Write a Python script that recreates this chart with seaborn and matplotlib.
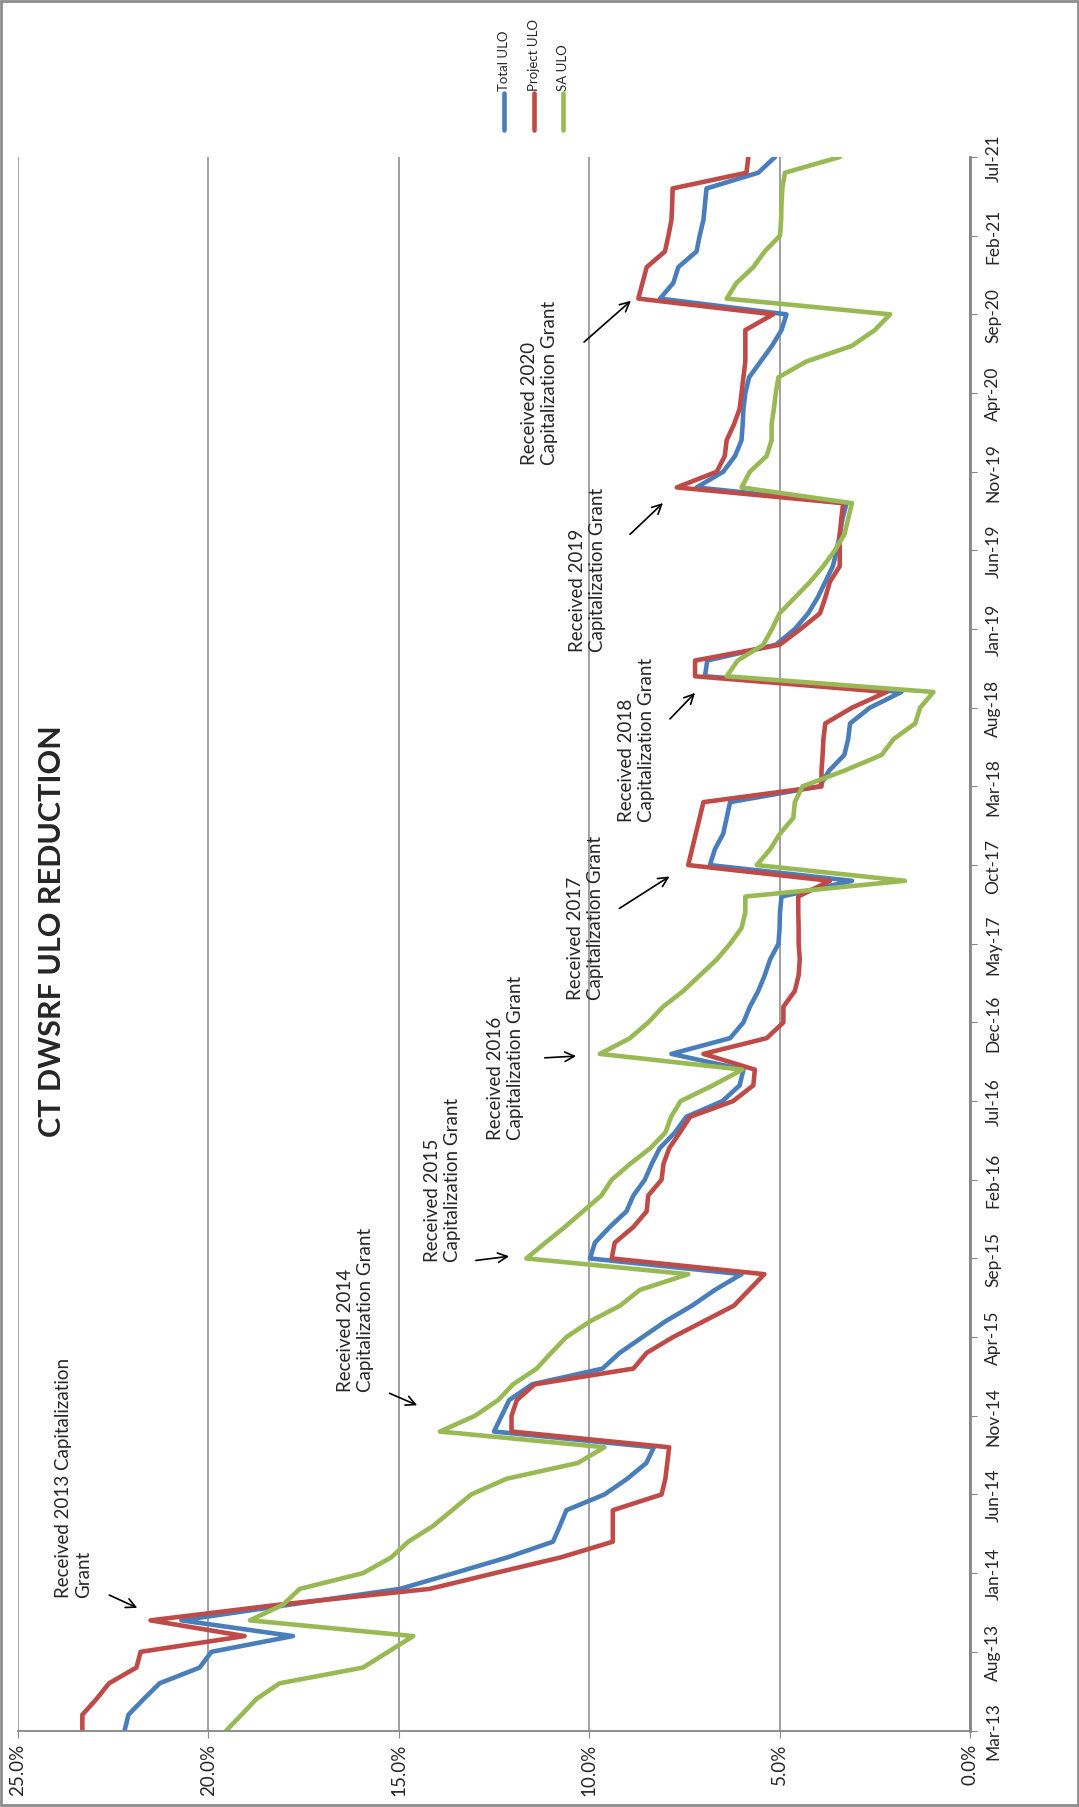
import numpy as np
import pandas as pd
import matplotlib
matplotlib.use('Agg')
import matplotlib.pyplot as plt
import seaborn as sns
from matplotlib.lines import Line2D
from matplotlib.patches import Rectangle

# months since Mar-13 (monthly points), date tick labels every 5 months
months = list(range(101))
tick_months = list(range(0, 101, 5))
tick_labels = ['Mar-13', 'Aug-13', 'Jan-14', 'Jun-14', 'Nov-14', 'Apr-15', 'Sep-15',
               'Feb-16', 'Jul-16', 'Dec-16', 'May-17', 'Oct-17', 'Mar-18', 'Aug-18',
               'Jan-19', 'Jun-19', 'Nov-19', 'Apr-20', 'Sep-20', 'Feb-21', 'Jul-21']
pct_ticks = [0, 5, 10, 15, 20, 25]

# ULO as percent
total_ulo = [22.2, 22.1, 21.7, 21.28, 20.23, 19.92, 17.78, 20.71, 17.86, 14.97,
             13.55, 12.15, 10.95, 10.77, 10.6, 9.6, 9.0, 8.5, 8.3, 12.5,
             12.3, 12.1, 11.5, 9.65, 9.2, 8.6, 8.0, 7.3, 6.7, 6.0,
             9.98, 9.85, 9.46, 9.02, 8.84, 8.54, 8.36, 8.15, 7.75, 7.45,
             6.5, 6.05, 5.95, 7.84, 6.3, 5.95, 5.78, 5.56, 5.39, 5.25,
             5.03, 5.0, 4.99, 4.95, 3.1, 6.83, 6.7, 6.48, 6.39, 6.3,
             3.95, 3.7, 3.3, 3.2, 3.15, 2.63, 1.8, 6.96, 6.9, 5.1,
             4.6, 4.25, 4.0, 3.8, 3.6, 3.5, 3.42, 3.35, 3.24, 7.18,
             6.48, 6.17, 6.0, 5.97, 5.95, 5.9, 5.8, 5.5, 5.2, 4.95,
             4.82, 8.14, 7.79, 7.66, 7.18, 7.1, 7.0, 6.96, 6.92, 5.56,
             5.12]
project_ulo = [23.31, 23.31, 22.94, 22.61, 21.89, 21.78, 19.05, 21.52, 18.13, 14.19,
               12.48, 10.75, 9.38, 9.38, 9.38, 8.1, 8.0, 7.95, 7.9, 12.04,
               12.04, 11.9, 11.43, 8.84, 8.49, 7.8, 7.0, 6.2, 5.8, 5.4,
               9.41, 9.33, 8.84, 8.49, 8.45, 8.1, 8.05, 7.9, 7.62, 7.35,
               6.22, 5.69, 5.65, 7.0, 5.34, 4.9, 4.9, 4.6, 4.5, 4.47,
               4.5, 4.5, 4.51, 4.51, 3.68, 7.4, 7.3, 7.2, 7.1, 7.0,
               3.9, 3.9, 3.87, 3.85, 3.8, 3.1, 2.19, 7.22, 7.22, 5.0,
               4.45, 3.94, 3.8, 3.68, 3.42, 3.42, 3.42, 3.38, 3.33, 7.7,
               6.65, 6.44, 6.39, 6.2, 6.05, 6.0, 5.95, 5.9, 5.9, 5.9,
               5.17, 8.71, 8.6, 8.49, 8.01, 7.92, 7.84, 7.82, 7.81, 5.87,
               5.82]
sa_ulo = [19.53, 19.13, 18.74, 18.13, 15.94, 15.28, 14.62, 18.91, 18.04, 17.6,
          15.94, 15.2, 14.75, 14.1, 13.6, 13.1, 12.17, 10.3, 9.6, 13.92,
          13.0, 12.39, 12.0, 11.38, 11.0, 10.6, 9.98, 9.19, 8.67, 7.4,
          11.65, 11.15, 10.64, 10.16, 9.68, 9.41, 8.93, 8.4, 8.0, 7.85,
          7.6, 6.75, 5.98, 9.72, 8.93, 8.45, 8.06, 7.53, 7.09, 6.65,
          6.3, 6.0, 5.9, 5.9, 1.71, 5.6, 5.25, 4.99, 4.64, 4.6,
          4.4, 3.3, 2.32, 2.01, 1.44, 1.31, 0.96, 6.39, 6.1, 5.43,
          5.2, 5.0, 4.6, 4.2, 3.85, 3.55, 3.3, 3.2, 3.1, 6.0,
          5.78, 5.34, 5.21, 5.21, 5.15, 5.1, 5.03, 4.3, 3.1, 2.5,
          2.1, 6.39, 6.13, 5.69, 5.39, 4.99, 4.96, 4.95, 4.93, 4.86,
          3.42]

series_names = ['Total ULO', 'Project ULO', 'SA ULO']
colors = ['#4A7EBB', '#BE4B48', '#98B954']

grant_texts = ['Received 2013 Capitalization\nGrant',
               'Received 2014\nCapitalization Grant',
               'Received 2015\nCapitalization Grant',
               'Received 2016\nCapitalization Grant',
               'Received 2017\nCapitalization Grant',
               'Received 2018\nCapitalization Grant',
               'Received 2019\nCapitalization Grant',
               'Received 2020\nCapitalization Grant']
# text anchor (value, month) and arrow tail/head (value, month)
grant_text_pos = [(24.03, 8.48), (16.63, 21.6), (14.34, 29.84), (12.69, 37.6),
                  (10.59, 46.5), (9.25, 57.8), (10.53, 68.6), (11.79, 80.5)]
grant_arrows = [((22.67, 8.68), (21.8, 7.72)), ((15.31, 21.5), (14.45, 20.6)),
                ((13.05, 29.85), (12.03, 30.16)), ((11.24, 42.74), (10.27, 42.87)),
                ((9.27, 52.15), (7.83, 54.37)), ((7.93, 64.16), (7.17, 66.07)),
                ((8.98, 75.9), (8.01, 78.13)), ((10.19, 88.12), (8.85, 90.98))]

df = pd.DataFrame({
    'month': months * 3,
    'value': total_ulo + project_ulo + sa_ulo,
    'series': [s for s in series_names for _ in months],
})

sns.set_style('white')
plt.rcParams['font.family'] = ['Lato', 'DejaVu Sans']

W, H = 1079, 1808
fig = plt.figure(figsize=(W / 100, H / 100), dpi=100)
ax = fig.add_axes([18 / W, 1 - 1731.5 / H, (970 - 18) / W, (1731.5 - 158) / H])

sns.lineplot(data=df, x='value', y='month', hue='series', hue_order=series_names,
             palette=colors, orient='y', estimator=None, legend=False,
             lw=3.3, solid_joinstyle='round', solid_capstyle='round', ax=ax)

grid_col = '#868686'
ax.set_xlim(25, 0)
ax.set_ylim(0, 100)
ax.set_xticks(pct_ticks)
ax.set_xticklabels([f'{p:.1f}%' for p in pct_ticks], rotation=90, fontsize=13.5)
ax.yaxis.tick_right()
ax.set_yticks(tick_months)
ax.set_yticklabels(tick_labels, rotation=90, va='center', fontsize=12.5)
ax.set_xlabel('')
ax.set_ylabel('')
ax.grid(axis='x', color=grid_col, lw=1.1)
ax.grid(axis='y', visible=False)
ax.tick_params(axis='x', bottom=True, direction='out', length=5, color=grid_col, pad=4)
ax.tick_params(axis='y', right=True, left=False, direction='out', length=5,
               color=grid_col, pad=6)
for side in ['top', 'left']:
    ax.spines[side].set_visible(False)
ax.spines['right'].set_color(grid_col)
ax.spines['right'].set_linewidth(2)
ax.spines['bottom'].set_color(grid_col)
ax.spines['bottom'].set_linewidth(1.3)

# grant annotations
for txt, pos, (tail, head) in zip(grant_texts, grant_text_pos, grant_arrows):
    ax.text(pos[0], pos[1], txt, rotation=90, ha='left', va='bottom',
            multialignment='left', fontsize=13.5, linespacing=1.2)
    ax.annotate('', xy=head, xytext=tail,
                arrowprops=dict(arrowstyle='->', color='black', lw=1.2,
                                mutation_scale=17))

# title
fig.text(52 / W, 1 - 931 / H, 'CT DWSRF ULO REDUCTION', rotation=90,
         ha='center', va='center', fontsize=22, fontweight='bold')

# legend, drawn rotated like the rest of the chart
for name, col, lx in zip(series_names, colors, [504, 534, 563]):
    fig.add_artist(Line2D([lx / W, lx / W], [1 - 94 / H, 1 - 131 / H], color=col,
                          lw=3.3, solid_capstyle='round', transform=fig.transFigure))
    fig.text(lx / W, 1 - 91 / H, name, rotation=90, ha='center', va='bottom',
             fontsize=9.5)

fig.patches.append(Rectangle((0.001, 0.001), 0.998, 0.998, transform=fig.transFigure,
                             fill=False, edgecolor='#8c8c8c', lw=2))

fig.savefig('out.png', dpi=100)
